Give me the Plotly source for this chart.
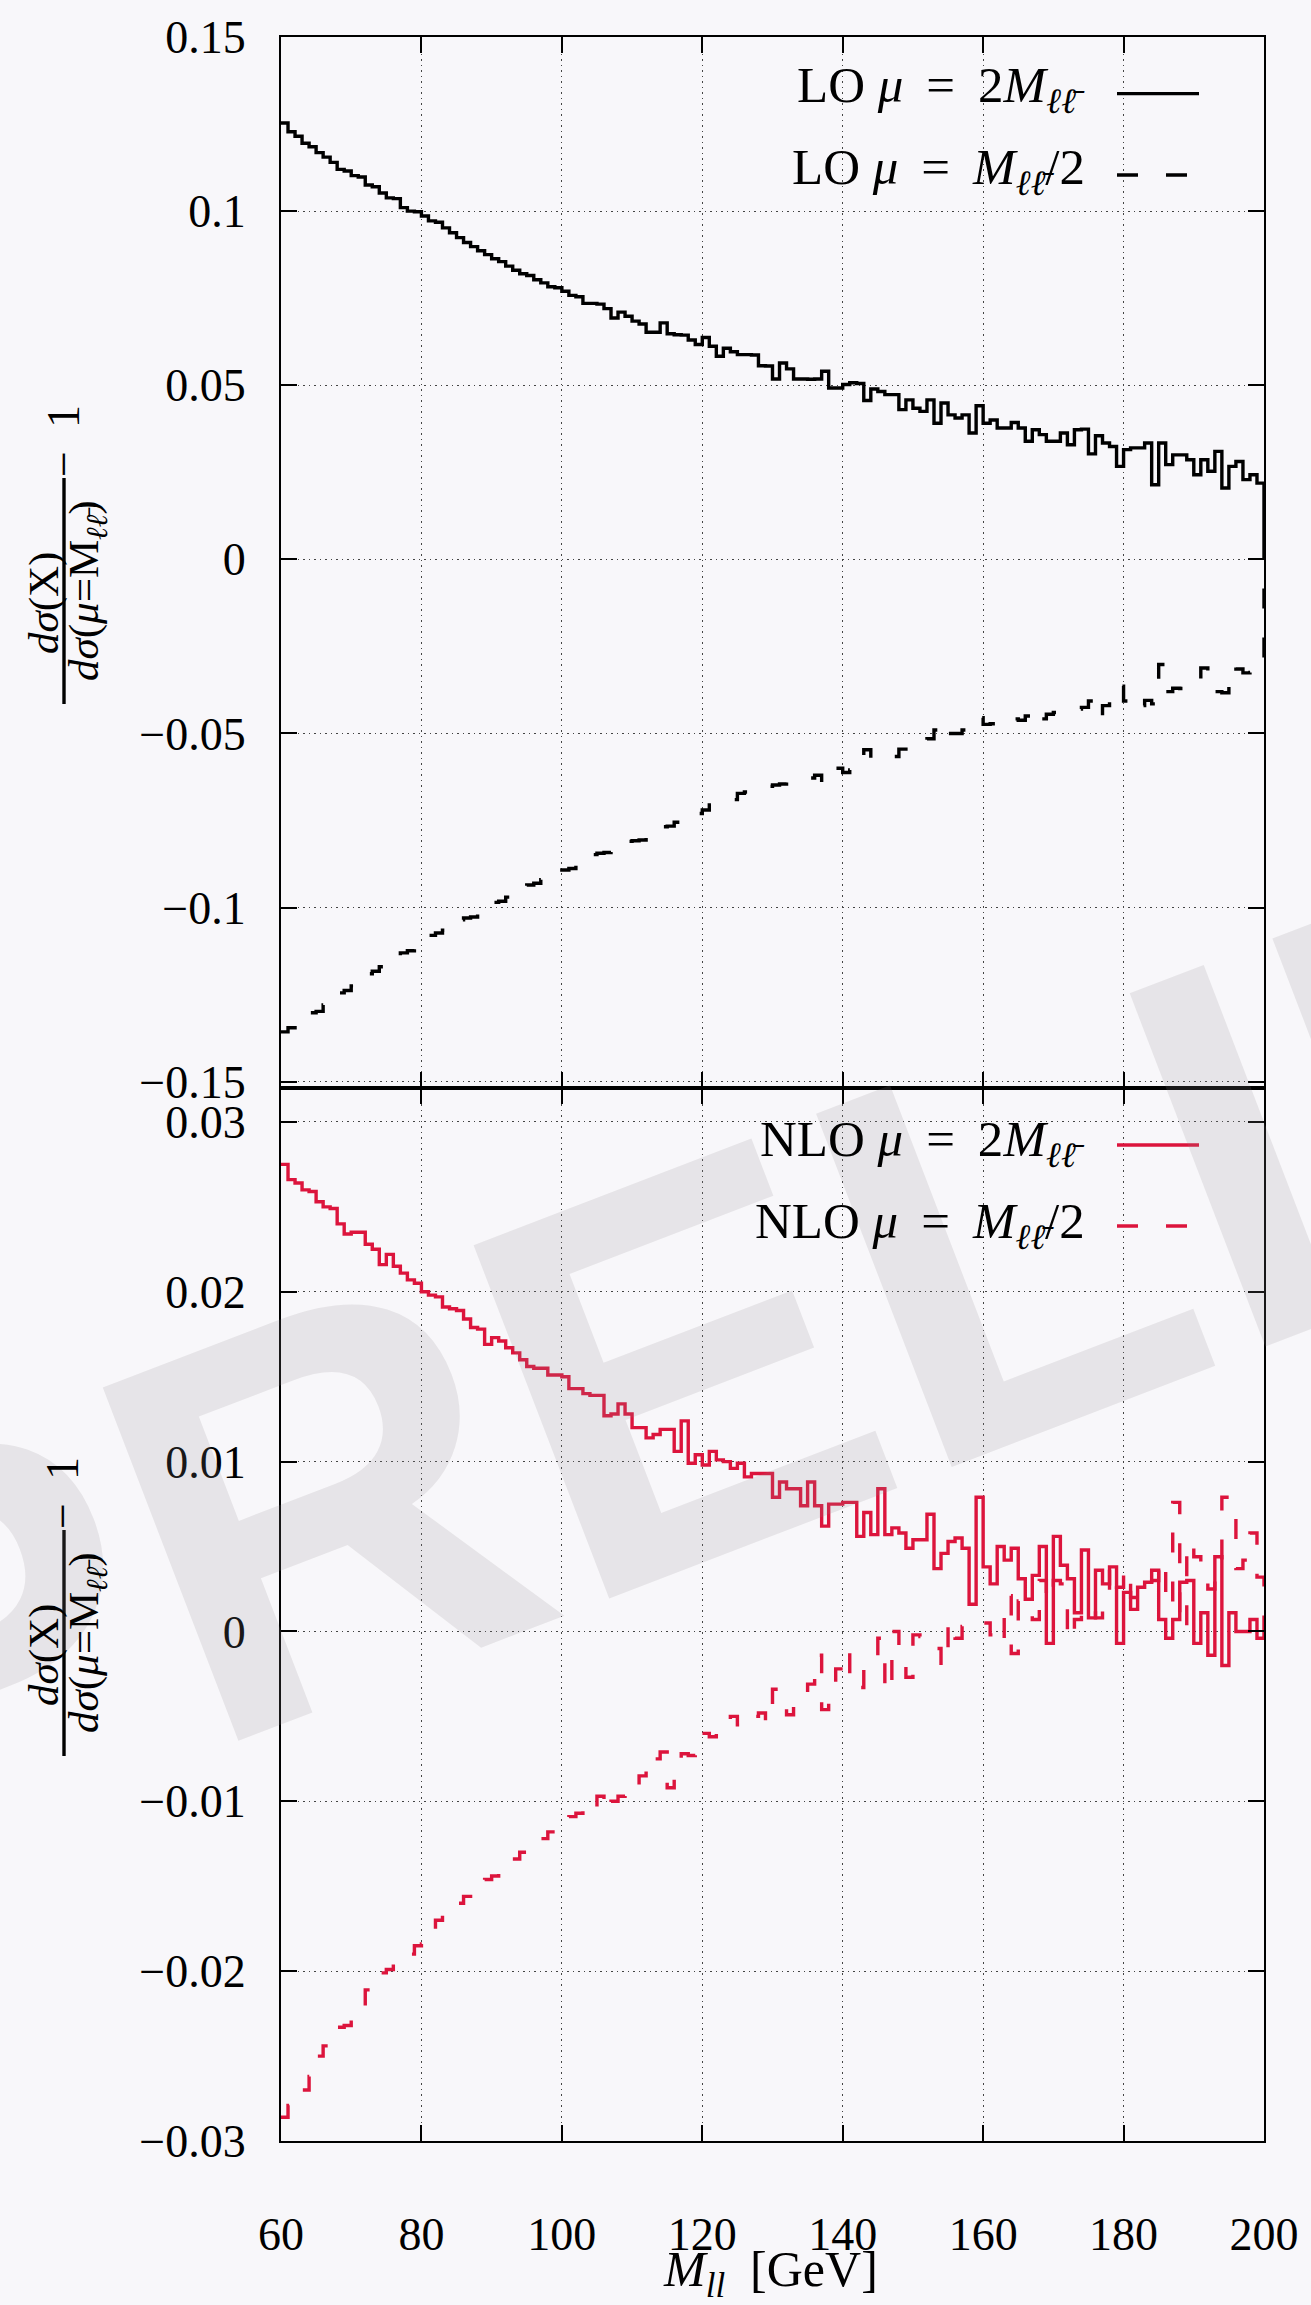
import plotly.graph_objects as go

# ---------------- data (1 GeV bins, lower edges 60..199) ----------------
bin_edges = list(range(60, 201))  # 60 .. 200

lo_mu_2m = [
    0.1253, 0.1228, 0.1215, 0.1195, 0.1185, 0.1168, 0.1155, 0.1140, 0.1120, 0.1115,
    0.1102, 0.1098, 0.1075, 0.1070, 0.1052, 0.1038, 0.1036, 0.1010, 0.1000, 0.0998,
    0.0986, 0.0972, 0.0968, 0.0952, 0.0938, 0.0924, 0.0910, 0.0898, 0.0886, 0.0875,
    0.0863, 0.0855, 0.0842, 0.0830, 0.0820, 0.0815, 0.0803, 0.0794, 0.0783, 0.0780,
    0.0770, 0.0758, 0.0754, 0.0735, 0.0735, 0.0733, 0.0720, 0.0693, 0.0710, 0.0698,
    0.0684, 0.0676, 0.0652, 0.0652, 0.0679, 0.0648, 0.0645, 0.0644, 0.0630, 0.0617,
    0.0637, 0.0612, 0.0583, 0.0606, 0.0596, 0.0588, 0.0588, 0.0587, 0.0556, 0.0555,
    0.0518, 0.0564, 0.0547, 0.0518, 0.0518, 0.0517, 0.0518, 0.0540, 0.0492, 0.0492,
    0.0502, 0.0507, 0.0505, 0.0456, 0.0489, 0.0482, 0.0473, 0.0473, 0.0430, 0.0458,
    0.0434, 0.0425, 0.0458, 0.0391, 0.0449, 0.0415, 0.0406, 0.0415, 0.0363, 0.0441,
    0.0391, 0.0400, 0.0377, 0.0377, 0.0393, 0.0377, 0.0339, 0.0372, 0.0358, 0.0339,
    0.0339, 0.0363, 0.0329, 0.0372, 0.0374, 0.0303, 0.0355, 0.0334, 0.0324, 0.0267,
    0.0315, 0.0320, 0.0320, 0.0334, 0.0214, 0.0334, 0.0272, 0.0300, 0.0300, 0.0286,
    0.0243, 0.0286, 0.0253, 0.0310, 0.0205, 0.0267, 0.0281, 0.0229, 0.0243, 0.0219,
]

lo_mu_half = [
    -0.1357, -0.1345, -0.1330, -0.1318, -0.1302, -0.1298, -0.1280, -0.1265, -0.1245, -0.1238,
    -0.1225, -0.1210, -0.1190, -0.1183, -0.1170, -0.1160, -0.1145, -0.1130, -0.1124, -0.1112,
    -0.1100, -0.1080, -0.1073, -0.1065, -0.1050, -0.1035, -0.1030, -0.1027, -0.1015, -0.1000,
    -0.0985, -0.0982, -0.0970, -0.0960, -0.0950, -0.0935, -0.0930, -0.0920, -0.0910, -0.0900,
    -0.0892, -0.0888, -0.0875, -0.0860, -0.0848, -0.0844, -0.0842, -0.0835, -0.0820, -0.0810,
    -0.0808, -0.0806, -0.0790, -0.0770, -0.0768, -0.0766, -0.0755, -0.0745, -0.0735, -0.0730,
    -0.0720, -0.0705, -0.0697, -0.0695, -0.0690, -0.0672, -0.0668, -0.0665, -0.0660, -0.0652,
    -0.0648, -0.0645, -0.0640, -0.0632, -0.0630, -0.0628, -0.0620, -0.0640, -0.0605, -0.0600,
    -0.0612, -0.0605, -0.0585, -0.0547, -0.0575, -0.0570, -0.0568, -0.0566, -0.0545, -0.0540,
    -0.0528, -0.0525, -0.0515, -0.0490, -0.0520, -0.0500, -0.0500, -0.0490, -0.0480, -0.0455,
    -0.0474, -0.0472, -0.0465, -0.0470, -0.0458, -0.0462, -0.0450, -0.0430, -0.0458, -0.0445,
    -0.0440, -0.0436, -0.0437, -0.0430, -0.0425, -0.0407, -0.0455, -0.0420, -0.0410, -0.0364,
    -0.0407, -0.0395, -0.0420, -0.0405, -0.0415, -0.0302, -0.0380, -0.0370, -0.0371, -0.0372,
    -0.0365, -0.0312, -0.0360, -0.0380, -0.0383, -0.0307, -0.0315, -0.0326, -0.0325, -0.0322,
]

nlo_mu_2m = [
    0.0275, 0.0266, 0.0264, 0.0260, 0.0259, 0.0253, 0.0250, 0.0249, 0.0240, 0.0234,
    0.0235, 0.0235, 0.0228, 0.0225, 0.0216, 0.0222, 0.0215, 0.0211, 0.0207, 0.0205,
    0.0200, 0.0198, 0.0197, 0.0191, 0.0190, 0.0189, 0.0184, 0.0179, 0.0178, 0.0169,
    0.0173, 0.0171, 0.0167, 0.0164, 0.0160, 0.0156, 0.0155, 0.0155, 0.0151, 0.0151,
    0.0150, 0.0143, 0.0143, 0.0140, 0.0139, 0.0139, 0.0127, 0.0128, 0.0134, 0.0128,
    0.0120, 0.0120, 0.0114, 0.0116, 0.0119, 0.0119, 0.0106, 0.0124, 0.0099, 0.0104,
    0.0098, 0.0106, 0.0101, 0.0100, 0.0096, 0.0099, 0.0091, 0.0093, 0.0093, 0.0093,
    0.0079, 0.0088, 0.0084, 0.0084, 0.0074, 0.0088, 0.0074, 0.0062, 0.0075, 0.0075,
    0.0076, 0.0076, 0.0056, 0.0070, 0.0057, 0.0084, 0.0057, 0.0061, 0.0058, 0.0049,
    0.0054, 0.0054, 0.0069, 0.0037, 0.0046, 0.0053, 0.0055, 0.0049, 0.0016, 0.0079,
    0.0038, 0.0028, 0.0050, 0.0042, 0.0049, 0.0031, 0.0019, 0.0033, 0.0050, -0.0007,
    0.0056, 0.0039, 0.0031, 0.0011, 0.0048, 0.0008, 0.0036, 0.0028, 0.0038, -0.0007,
    0.0023, 0.0013, 0.0026, 0.0029, 0.0036, 0.0007, -0.0004, 0.0007, 0.0029, 0.0030,
    -0.0007, 0.0011, -0.0014, 0.0044, -0.0020, 0.0011, 0.0000, 0.0000, 0.0007, -0.0004,
]

nlo_mu_half = [
    -0.0286, -0.0279, -0.0272, -0.0270, -0.0262, -0.0250, -0.0244, -0.0238, -0.0233, -0.0232,
    -0.0230, -0.0222, -0.0211, -0.0205, -0.0201, -0.0199, -0.0196, -0.0196, -0.0190, -0.0185,
    -0.0184, -0.0174, -0.0170, -0.0165, -0.0161, -0.0160, -0.0156, -0.0152, -0.0149, -0.0146,
    -0.0144, -0.0140, -0.0137, -0.0134, -0.0130, -0.0127, -0.0125, -0.0122, -0.0118, -0.0115,
    -0.0112, -0.0109, -0.0107, -0.0105, -0.0108, -0.0097, -0.0106, -0.0100, -0.0097, -0.0094,
    -0.0095, -0.0085, -0.0073, -0.0075, -0.0071, -0.0092, -0.0078, -0.0072, -0.0073, -0.0066,
    -0.0060, -0.0062, -0.0058, -0.0052, -0.0050, -0.0055, -0.0056, -0.0050, -0.0048, -0.0054,
    -0.0034, -0.0043, -0.0049, -0.0040, -0.0036, -0.0031, -0.0014, -0.0046, -0.0032, -0.0022,
    -0.0011, -0.0034, -0.0033, -0.0019, -0.0017, -0.0004, -0.0036, 0.0000, -0.0010, -0.0027,
    -0.0002, -0.0003, -0.0006, -0.0010, -0.0021, 0.0006, -0.0004, 0.0003, 0.0004, 0.0006,
    0.0005, -0.0002, -0.0008, 0.0021, -0.0013, 0.0018, 0.0014, 0.0007, 0.0030, 0.0018,
    0.0030, 0.0028, -0.0005, 0.0007, 0.0012, 0.0015, 0.0008, 0.0020, 0.0038, 0.0026,
    0.0037, 0.0020, 0.0020, 0.0025, 0.0030, 0.0042, 0.0014, 0.0076, 0.0001, 0.0053,
    0.0044, 0.0037, 0.0025, 0.0030, 0.0079, 0.0068, 0.0037, 0.0042, 0.0058, 0.0032,
]

x_ticks = [60, 80, 100, 120, 140, 160, 180, 200]
x_ticktext = ["60", "80", "100", "120", "140", "160", "180", "200"]
top_yticks = [0.15, 0.1, 0.05, 0.0, -0.05, -0.1, -0.15]
top_yticktext = ["0.15", "0.1", "0.05", "0", "\u22120.05", "\u22120.1", "\u22120.15"]
bot_yticks = [0.03, 0.02, 0.01, 0.0, -0.01, -0.02, -0.03]
bot_yticktext = ["0.03", "0.02", "0.01", "0", "\u22120.01", "\u22120.02", "\u22120.03"]

SUB_LL = "<sub><i>\u2113\u2113\u0304</i></sub>"
legend_top = ["LO <i>\u03bc</i> \u2009=\u2009 2<i>M</i>" + SUB_LL,
              "LO <i>\u03bc</i> \u2009=\u2009 <i>M</i>" + SUB_LL + "/2"]
legend_bot = ["NLO <i>\u03bc</i> \u2009=\u2009 2<i>M</i>" + SUB_LL,
              "NLO <i>\u03bc</i> \u2009=\u2009 <i>M</i>" + SUB_LL + "/2"]

# ---------------- style ----------------
W, H = 1311, 2305
ML, MR, MT, MB = 281, 47, 37, 164
BG = "#f8f7fa"
BLACK = "#000000"
RED = "#dc143c"
DASH = "20px,29px"
SERIF = "Liberation Serif, DejaVu Serif, serif"
SPLIT = 0.5005

PW = W - ML - MR
PH = H - MT - MB


def px(xp):
    return (xp - ML) / PW


def py(yp):
    return (H - MB - yp) / PH


def step_xy(vals):
    xs = bin_edges[:-1] + [bin_edges[-1], bin_edges[-1]]
    ys = list(vals) + [vals[-1], 0.0]
    return xs, ys


fig = go.Figure()
for vals, color, dash, xa, ya in [
    (lo_mu_2m, BLACK, "solid", "x", "y"),
    (lo_mu_half, BLACK, DASH, "x", "y"),
    (nlo_mu_2m, RED, "solid", "x2", "y2"),
    (nlo_mu_half, RED, DASH, "x2", "y2"),
]:
    xs, ys = step_xy(vals)
    fig.add_trace(go.Scatter(x=xs, y=ys, mode="lines", line_shape="hv",
                             line=dict(color=color, width=3.4, dash=dash),
                             xaxis=xa, yaxis=ya, showlegend=False, hoverinfo="skip"))

axis_common = dict(
    showline=True, linecolor=BLACK, linewidth=2, mirror="allticks",
    ticks="inside", ticklen=16, tickwidth=1.5, tickcolor=BLACK,
    showgrid=True, gridcolor="#444444", gridwidth=1.2, griddash="1.5px,4px",
    zeroline=False, tickfont=dict(family=SERIF, size=46, color=BLACK),
)

fig.update_layout(
    width=W, height=H,
    margin=dict(l=ML, r=MR, t=MT, b=MB, pad=0),
    paper_bgcolor=BG, plot_bgcolor=BG,
    showlegend=False,
    xaxis=dict(domain=[0, 1], anchor="y", range=[60, 200], tickvals=x_ticks,
               ticktext=x_ticktext, showticklabels=False, **axis_common),
    yaxis=dict(domain=[SPLIT, 1], anchor="x", range=[-0.1518, 0.15], tickvals=top_yticks,
               ticktext=top_yticktext, ticklabelstandoff=24, **axis_common),
    xaxis2=dict(domain=[0, 1], anchor="y2", range=[60, 200], tickvals=x_ticks,
                ticktext=x_ticktext, ticklabelstandoff=52, **axis_common),
    yaxis2=dict(domain=[0, SPLIT], anchor="x2", range=[-0.03, 0.032], tickvals=bot_yticks,
                ticktext=bot_yticktext, ticklabelstandoff=24, **axis_common),
)

annotations = []
shapes = []

# watermark (semi-transparent so grid shows through)
annotations.append(dict(text="<b>PRELIMINARY</b>", x=px(1552), y=py(1032), xref="paper", yref="paper",
                        xanchor="center", yanchor="middle", showarrow=False, textangle=-21,
                        font=dict(family="Liberation Sans, Arial, sans-serif", size=550,
                                  color="rgba(140,138,145,0.17)")))

# legends (gnuplot style: text then sample)
for rows, color, y_text, y_line in [
    (legend_top, BLACK, [89, 171], [93.6, 175]),
    (legend_bot, RED, [1142.5, 1225], [1145, 1226]),
]:
    for i, txt in enumerate(rows):
        annotations.append(dict(text=txt, x=px(1087), y=py(y_text[i]), xref="paper", yref="paper",
                                xanchor="right", yanchor="middle", showarrow=False,
                                font=dict(family=SERIF, size=51, color=BLACK)))
        shapes.append(dict(type="line", xref="paper", yref="paper",
                           x0=px(1117), x1=px(1199), y0=py(y_line[i]), y1=py(y_line[i]),
                           line=dict(color=color, width=3.4, dash="solid" if i == 0 else "21px,28px")))

# y-axis titles (fraction built from text + bar)
for yc in [591, 1643]:
    shapes.append(dict(type="line", xref="paper", yref="paper",
                       x0=px(64), x1=px(64), y0=py(yc - 113), y1=py(yc + 113),
                       line=dict(color=BLACK, width=3.4)))
    annotations.append(dict(text="<i>d\u03c3</i>(X)", x=px(44), y=py(yc + 12), xref="paper", yref="paper",
                            xanchor="center", yanchor="middle", showarrow=False, textangle=-90,
                            font=dict(family=SERIF, size=43, color=BLACK)))
    annotations.append(dict(text="<i>d\u03c3</i>(<i>\u03bc</i>=M<sub><i>\u2113\u2113\u0304</i></sub>)",
                            x=px(87), y=py(yc), xref="paper", yref="paper",
                            xanchor="center", yanchor="middle", showarrow=False, textangle=-90,
                            font=dict(family=SERIF, size=43, color=BLACK)))
    annotations.append(dict(text="\u2212  1", x=px(63), y=py(yc - 150), xref="paper", yref="paper",
                            xanchor="center", yanchor="middle", showarrow=False, textangle=-90,
                            font=dict(family=SERIF, size=46, color=BLACK)))

# x-axis title
annotations.append(dict(text="<i>M</i><sub><i>ll</i></sub>  [GeV]", x=px(770), y=py(2273),
                        xref="paper", yref="paper", xanchor="center", yanchor="middle",
                        showarrow=False, font=dict(family=SERIF, size=50, color=BLACK)))

fig.update_layout(annotations=annotations, shapes=shapes)
fig.write_html("out.html", config={"displayModeBar": False},
               post_script="document.body.style.margin='0';document.body.style.padding='0';"
                           "document.body.style.background='#f8f7fa';"
                           "document.documentElement.style.background='#f8f7fa';")
